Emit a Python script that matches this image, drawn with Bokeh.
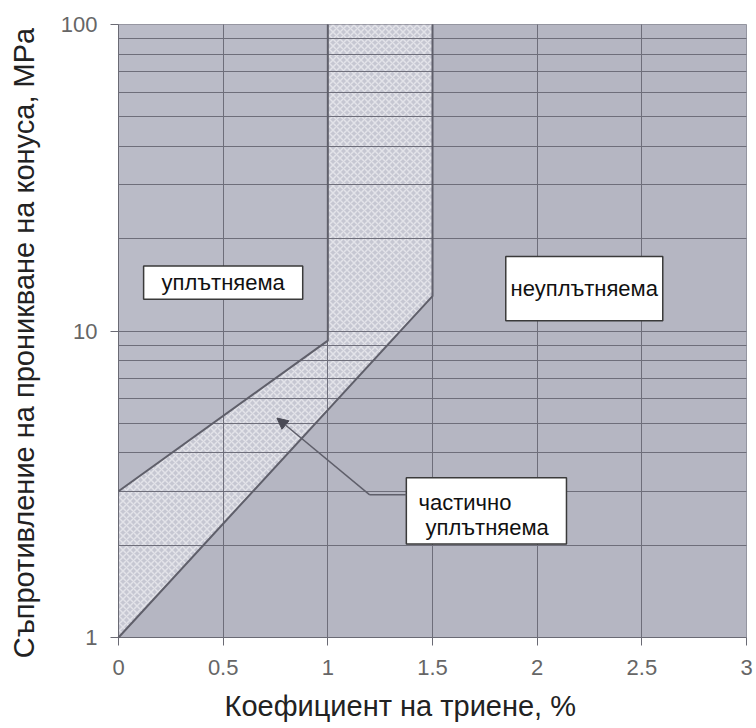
from bokeh.plotting import figure
from bokeh.models import Range1d, FixedTicker, Arrow, NormalHead, NumeralTickFormatter
from bokeh.core.properties import value
from bokeh.embed import file_html
from bokeh.resources import INLINE

# ---------------- data ----------------
x_ticks = [0, 0.5, 1, 1.5, 2, 2.5, 3]
x_tick_labels = ["0", "0.5", "1", "1.5", "2", "2.5", "3"]
y_ticks = [1, 10, 100]
y_minor = [2, 3, 4, 5, 6, 7, 8, 9, 20, 30, 40, 50, 60, 70, 80, 90]

# boundary between compactable and partially compactable
upper_x = [0, 1, 1]
upper_y = [3, 9.3, 100]
# boundary between partially compactable and non-compactable
lower_x = [0, 1.5, 1.5]
lower_y = [1, 13, 100]

region_compact_x = [0, 1, 1, 0]
region_compact_y = [3, 9.3, 100, 100]
region_partial_x = [0, 0, 1, 1, 1.5, 1.5]
region_partial_y = [1, 3, 9.3, 100, 100, 13]
region_non_x = [0, 1.5, 1.5, 3, 3]
region_non_y = [1, 13, 100, 100, 1]

label_compact = "уплътняема"
label_non = "неуплътняема"
label_partial_1 = "частично"
label_partial_2 = "уплътняема"

x_title = "Коефициент на триене, %"
y_title = "Съпротивление на проникване на конуса, MPa"

FONT = "Liberation Sans"
LINE = "#5f5f6a"
NBSP = "\u00a0"

p = figure(width=754, height=728, x_range=Range1d(0, 3), y_range=Range1d(1, 100),
           y_axis_type="log", output_backend="svg", toolbar_location=None,
           min_border_left=118, min_border_right=8, min_border_top=24, min_border_bottom=91)
p.background_fill_color = "white"
p.border_fill_color = "white"
p.outline_line_color = "#8a8a94"

# regions
p.patch(region_compact_x, region_compact_y, fill_color="#babbc7", line_color=None)
p.patch(region_partial_x, region_partial_y, fill_color="#c6c7d2", line_color=None,
        hatch_pattern="diagonal_cross", hatch_color="white", hatch_alpha=0.5,
        hatch_scale=7, hatch_weight=1.5)
p.patch(region_non_x, region_non_y, fill_color="#b5b6c2", line_color=None)

# grid on top of fills
p.xaxis.ticker = FixedTicker(ticks=x_ticks)
p.yaxis.ticker = FixedTicker(ticks=y_ticks, minor_ticks=y_minor)
for g in (p.xgrid, p.ygrid):
    g.level = "guide"
    g.grid_line_color = "#6e6e7a"
    g.grid_line_width = 1
p.ygrid.minor_grid_line_color = "#6e6e7a"
p.ygrid.minor_grid_line_width = 1

# boundary lines
r1 = p.line(upper_x, upper_y, line_color=LINE, line_width=2)
r2 = p.line(lower_x, lower_y, line_color=LINE, line_width=2)
r1.level = "overlay"
r2.level = "overlay"

# label boxes (data coords)
box_left = [0.12, 1.85, 1.375]
box_right = [0.88, 2.6, 2.14]
box_bottom = [12.7, 10.8, 2.02]
box_top = [16.3, 17.5, 3.32]
rq = p.quad(left=box_left, right=box_right, bottom=box_bottom, top=box_top,
            fill_color="white", line_color="#3a3a3a", line_width=1.5)
rq.level = "overlay"

t1 = p.text(x=[0.5], y=[14.4], text=[label_compact], text_align="center",
            text_baseline="middle", text_font=value(FONT), text_font_size=value("22px"),
            text_color="#111111")
t2 = p.text(x=[2.225], y=[13.8], text=[label_non], text_align="center",
            text_baseline="middle", text_font=value(FONT), text_font_size=value("22px"),
            text_color="#111111")
t3 = p.text(x=[1.433, 1.467], y=[2.75, 2.28], text=[label_partial_1, label_partial_2],
            text_align="left", text_baseline="middle", text_font=value(FONT),
            text_font_size=value("22px"), text_color="#111111")
for t in (t1, t2, t3):
    t.level = "overlay"

# arrow pointing into partially compactable zone
rs = p.line([1.2, 1.375], [2.92, 2.92], line_color=LINE, line_width=1.5)
rs.level = "overlay"
p.add_layout(Arrow(end=NormalHead(size=11, fill_color="#4a4a55", line_color="#4a4a55"),
                   x_start=1.2, y_start=2.92, x_end=0.757, y_end=5.2,
                   line_color=LINE, line_width=1.5))

# axes
p.xaxis.major_label_overrides = {t: l for t, l in zip(x_ticks, x_tick_labels)}
p.yaxis.formatter = NumeralTickFormatter(format="0")
for ax in (p.xaxis[0], p.yaxis[0]):
    ax.axis_line_color = "#6a6a74"
    ax.major_tick_line_color = "#6a6a74"
    ax.major_tick_in = 0
    ax.major_tick_out = 8
    ax.minor_tick_line_color = None
    ax.major_label_text_font = FONT
    ax.major_label_text_font_size = "22px"
    ax.major_label_text_color = "#666666"
    ax.axis_label_text_font = FONT
    ax.axis_label_text_font_style = "normal"
    ax.axis_label_text_color = "#222222"
# trailing non-breaking spaces shift the titles off-centre as in the original
p.xaxis.axis_label = x_title + NBSP * 8
p.yaxis.axis_label = y_title + NBSP * 3
p.xaxis.axis_label_text_font_size = "29px"
p.yaxis.axis_label_text_font_size = "29px"
p.xaxis.major_label_standoff = 14
p.xaxis.axis_label_standoff = 12
p.yaxis.major_label_standoff = 13
p.yaxis.axis_label_standoff = 18

open("out.html", "w").write(file_html(p, INLINE))
